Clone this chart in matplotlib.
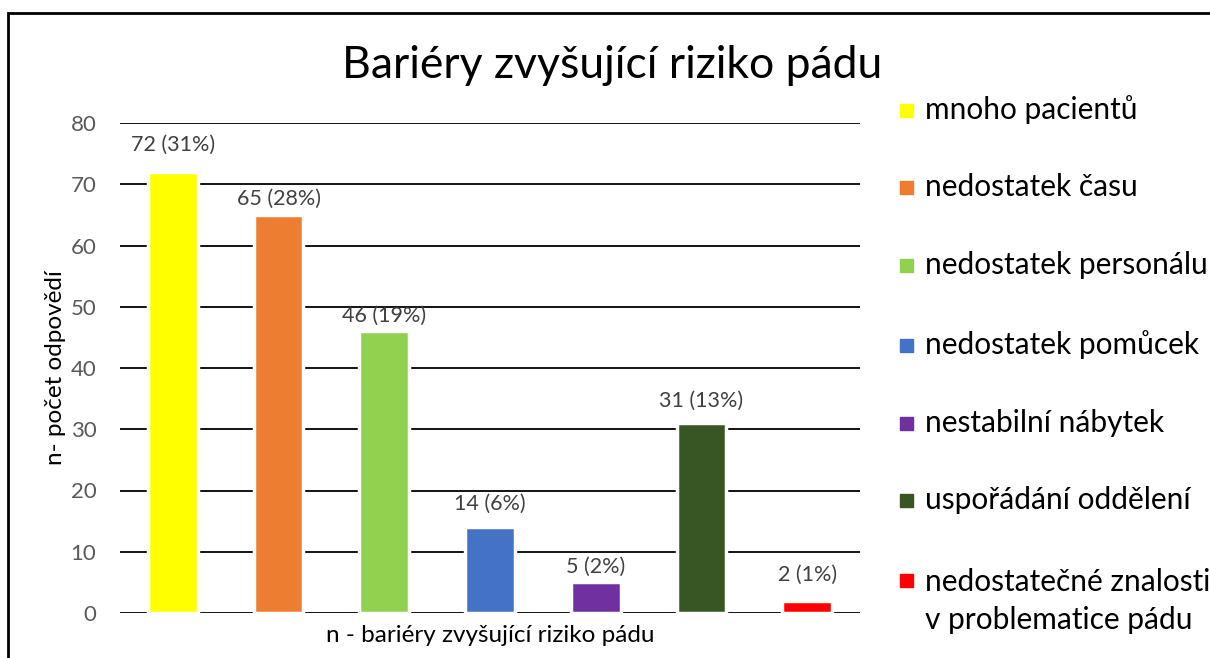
import matplotlib
matplotlib.use('Agg')
import matplotlib.pyplot as plt
from matplotlib.patches import Rectangle

plt.rcParams['font.family'] = ['Lato', 'DejaVu Sans']

categories = ['mnoho pacientů', 'nedostatek času', 'nedostatek personálu',
              'nedostatek pomůcek', 'nestabilní nábytek', 'uspořádání oddělení',
              'nedostatečné znalosti\nv problematice pádu']
counts = [72, 65, 46, 14, 5, 31, 2]
percents = [31, 28, 19, 6, 2, 13, 1]
colors = ['#FFFF00', '#ED7D31', '#92D050', '#4472C4', '#7030A0', '#375623', '#FF0000']
# label distance above the bar top, in points (labels were nudged off the gridlines)
label_offsets = [19.5, 11.5, 11, 16.5, 11, 16, 18.5]

fig = plt.figure(figsize=(12.1, 6.58), dpi=100)
ax = fig.add_axes([120/1210, 1-613/658, 740/1210, 490/658])

x = range(len(counts))
ax.bar(x, counts, width=0.47, color=colors, edgecolor='white', linewidth=2.5, zorder=3)
ax.set_xlim(-0.5, len(counts)-0.5)
ax.set_ylim(0, 80)
ax.set_yticks(range(0, 81, 10))
ax.yaxis.grid(True, color='#000000', linewidth=1.3, zorder=0)
ax.set_axisbelow(True)
ax.set_xticks([])
ax.tick_params(axis='y', length=0, labelsize=16, labelcolor='#595959', pad=17)
for s in ax.spines.values():
    s.set_visible(False)

for i, (c, p, off) in enumerate(zip(counts, percents, label_offsets)):
    ax.annotate(f'{c} ({p}%)', xy=(i, c), xytext=(0, off), textcoords='offset points',
                ha='center', va='center', fontsize=15.5, color='#404040')

ax.set_ylabel('n- počet odpovědí', fontsize=17.5, labelpad=3)
ax.set_xlabel('n - bariéry zvyšující riziko pádu', fontsize=17.5, labelpad=9)

fig.text(612/1210, 1-66/658, 'Bariéry zvyšující riziko pádu', ha='center', va='center', fontsize=32)

# legend
leg_y = [110, 187, 265, 345, 423, 500, 580]
for lab, col, yy in zip(categories, colors, leg_y):
    fig.patches.append(Rectangle((900/1210, 1-(yy+7)/658), 13/1210, 13/658,
                                 transform=fig.transFigure, color=col))
    if '\n' in lab:
        fig.text(925/1210, 1-(yy+21)/658, lab, ha='left', va='center', fontsize=21.5, linespacing=1.42)
    else:
        fig.text(925/1210, 1-yy/658, lab, ha='left', va='center', fontsize=21.5)

# outer frame
fig.patches.append(Rectangle((7.5/1210, -0.1), 1.2, 1-13/658 + 0.1, transform=fig.transFigure,
                             fill=False, edgecolor='black', linewidth=2))

fig.savefig('out.png', dpi=100)
